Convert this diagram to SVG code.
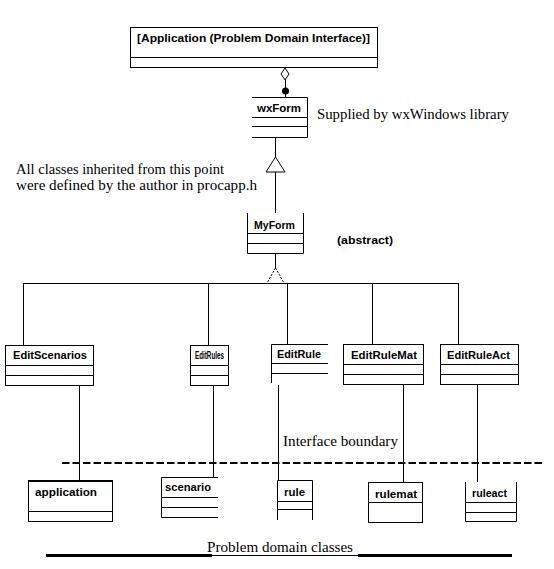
<svg xmlns="http://www.w3.org/2000/svg" width="554" height="569" viewBox="0 0 554 569">
<style>
.bg{fill:#fff}
.ln{fill:none;stroke:#000;stroke-width:1}
.cn{font-family:"Liberation Sans",Arial,sans-serif;font-weight:bold;font-size:10px;fill:#000}
.nt{font-family:"Liberation Serif","Times New Roman",serif;font-size:15px;fill:#000}
</style>
<rect class="bg" x="0" y="0" width="554" height="569"/>
<g id="connectors">
  <polygon class="ln" points="285,68 289,74 285,80 281,74"/>
  <path class="ln" d="M285.5,80 V97"/>
  <circle cx="285.5" cy="91" r="3.5" fill="#000"/>
  <path class="ln" d="M275.5,137 V157 M275.5,172 V213"/>
  <polygon class="ln" points="275.5,157 285,172 266,172"/>
  <path class="ln" d="M275.5,253 V268"/>
  <path class="ln" d="M275.5,268 L267,283 M275.5,268 L284,283" stroke-dasharray="2 1.5"/>
  <path class="ln" d="M23,283.5 H458.5 M23.5,283 V345 M208.5,283 V345 M287.5,283 V344 M372.5,283 V344 M458.5,283 V344"/>
  <path class="ln" d="M79.5,385 V481 M213.5,385 V477 M278.5,385 V480 M403.5,384 V482 M477.5,384 V482"/>
  <path d="M62,463 H542" stroke="#000" stroke-width="2" stroke-dasharray="7.5 3"/>
  <path d="M46,555.5 H212 M358,555.5 H512" stroke="#000" stroke-width="3"/>
  <path d="M212,555.5 H358" stroke="#000" stroke-width="1"/>
</g>
<g id="application-interface">
  <rect class="ln" x="130.5" y="27.5" width="247" height="40"/>
  <path class="ln" d="M130,57.5 H378"/>
  <text class="cn" x="137" y="42" textLength="233" lengthAdjust="spacingAndGlyphs">[Application (Problem Domain Interface)]</text>
</g>
<g id="wxForm">
  <path class="ln" d="M252,97.5 H307.5 V137.5 H252 M252,117.5 H308 M252,126.5 H308"/>
  <text class="cn" x="257" y="111.5" textLength="44" lengthAdjust="spacingAndGlyphs">wxForm</text>
</g>
<g id="MyForm">
  <path class="ln" d="M247.5,213 V253.5 H303.5 V213 M247,233.5 H304 M247,243.5 H304"/>
  <text class="cn" x="254" y="228.5" textLength="41" lengthAdjust="spacingAndGlyphs">MyForm</text>
</g>
<g id="EditScenarios">
  <rect class="ln" x="5.5" y="345.5" width="88" height="40"/>
  <path class="ln" d="M5,365.5 H94 M5,375.5 H94"/>
  <text class="cn" x="13" y="359" textLength="74" lengthAdjust="spacingAndGlyphs">EditScenarios</text>
</g>
<g id="EditRules">
  <rect class="ln" x="190.5" y="345.5" width="38" height="40"/>
  <path class="ln" d="M190,365.5 H229 M190,375.5 H229"/>
  <text class="cn" x="195" y="359" textLength="29" lengthAdjust="spacingAndGlyphs">EditRules</text>
</g>
<g id="EditRule">
  <path class="ln" d="M328,344.5 H271.5 V383 M271,363.5 H328 M271,373.5 H328"/>
  <text class="cn" x="277" y="358" textLength="44" lengthAdjust="spacingAndGlyphs">EditRule</text>
</g>
<g id="EditRuleMat">
  <rect class="ln" x="343.5" y="344.5" width="80" height="40"/>
  <path class="ln" d="M343,364.5 H424 M343,374.5 H424"/>
  <text class="cn" x="351" y="359" textLength="66" lengthAdjust="spacingAndGlyphs">EditRuleMat</text>
</g>
<g id="EditRuleAct">
  <rect class="ln" x="440.5" y="344.5" width="78" height="40"/>
  <path class="ln" d="M440,364.5 H519 M440,374.5 H519"/>
  <text class="cn" x="447" y="359" textLength="63" lengthAdjust="spacingAndGlyphs">EditRuleAct</text>
</g>
<g id="application">
  <rect class="ln" x="28.5" y="481.5" width="84" height="40"/>
  <path d="M28,481 H113" stroke="#000" stroke-width="2"/>
  <path class="ln" d="M28,511.5 H113"/>
  <text class="cn" x="35" y="496" textLength="62" lengthAdjust="spacingAndGlyphs">application</text>
</g>
<g id="scenario">
  <path class="ln" d="M218,477.5 H161.5 V517.5 H218 M161,497.5 H218 M161,507.5 H218"/>
  <text class="cn" x="165" y="491" textLength="46" lengthAdjust="spacingAndGlyphs">scenario</text>
</g>
<g id="rule">
  <path class="ln" d="M277.5,520 V480.5 H312.5 V520 M277,501.5 H313 M277,509.5 H313"/>
  <text class="cn" x="284" y="495.5" textLength="21" lengthAdjust="spacingAndGlyphs">rule</text>
</g>
<g id="rulemat">
  <rect class="ln" x="368.5" y="482.5" width="54" height="40"/>
  <path class="ln" d="M368,502.5 H423"/>
  <text class="cn" x="375" y="497.5" textLength="42" lengthAdjust="spacingAndGlyphs">rulemat</text>
</g>
<g id="ruleact">
  <path class="ln" d="M465.5,482 V521.5 H516.5 V482 M465,502.5 H517 M465,512.5 H517"/>
  <text class="cn" x="472" y="497" textLength="35" lengthAdjust="spacingAndGlyphs">ruleact</text>
</g>
<g id="notes">
  <text class="nt" x="317" y="119" textLength="192" lengthAdjust="spacingAndGlyphs">Supplied by wxWindows library</text>
  <text class="nt" x="16" y="174" textLength="208" lengthAdjust="spacingAndGlyphs">All classes inherited from this point</text>
  <text class="nt" x="16" y="190" textLength="241" lengthAdjust="spacingAndGlyphs">were defined by the author in procapp.h</text>
  <text class="cn" x="337" y="244" textLength="56" lengthAdjust="spacingAndGlyphs">(abstract)</text>
  <text class="nt" x="283" y="446" textLength="115" lengthAdjust="spacingAndGlyphs">Interface boundary</text>
  <text class="nt" x="207" y="552" textLength="146" lengthAdjust="spacingAndGlyphs">Problem domain classes</text>
</g>
</svg>
